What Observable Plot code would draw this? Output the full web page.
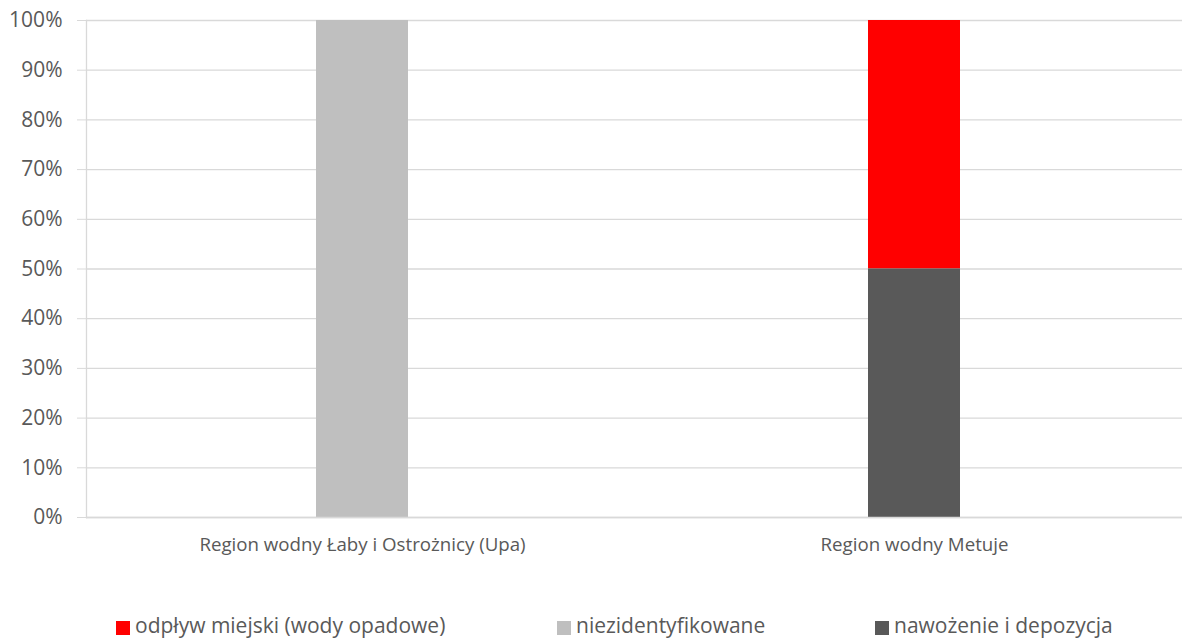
<!DOCTYPE html>
<html>
<head>
<meta charset="utf-8">
<script src="https://cdn.jsdelivr.net/npm/d3@7"></script>
<script src="https://cdn.jsdelivr.net/npm/@observablehq/plot@0.6"></script>
<style>
  html, body { margin: 0; padding: 0; background: white; overflow: hidden; }
  #wrap { position: relative; width: 1182px; height: 640px; }
  #legend { position: absolute; left: 0; top: 570px; width: 1182px; height: 70px; font-family: "Open Sans", sans-serif; color: #595959; }
  .sw { position: absolute; top: 51px; width: 14px; height: 14px; }
  .lt { position: absolute; top: 45px; font-size: 21px; line-height: 20px; white-space: nowrap; }
</style>
</head>
<body>
<div id="wrap"><div id="chart"></div><div id="legend"></div></div>
<script>
const regions = ["Region wodny Łaby i Ostrożnicy (Upa)", "Region wodny Metuje"];
const sources = ["odpływ miejski (wody opadowe)", "niezidentyfikowane", "nawożenie i depozycja"];
const colors = ["#FF0000", "#BFBFBF", "#595959"];
const odplyw = [0, 0.5];
const niezidentyfikowane = [1, 0];
const nawozenie = [0, 0.5];
const yTicks = [0, 0.1, 0.2, 0.3, 0.4, 0.5, 0.6, 0.7, 0.8, 0.9, 1];
const legendLeft = [116, 557, 875];

const series = [odplyw, niezidentyfikowane, nawozenie];
const data = [];
regions.forEach((r, i) => {
  sources.forEach((s, j) => data.push({region: r, source: s, value: series[j][i]}));
});

const chart = Plot.plot({
  width: 1182,
  height: 570,
  marginLeft: 86,
  marginRight: -8,
  marginTop: 20,
  marginBottom: 53,
  style: {fontFamily: "Open Sans", color: "#595959", background: "white", overflow: "visible"},
  x: {domain: regions, padding: 0, label: null},
  y: {domain: [0, 1], label: null},
  color: {domain: sources, range: colors},
  marks: [
    Plot.gridY(yTicks, {stroke: "#D9D9D9", strokeOpacity: 1, strokeWidth: 1.3}),
    Plot.axisY(yTicks, {tickFormat: d3.format(".0%"), tickSize: 9, tickPadding: 15, stroke: "#D9D9D9", strokeOpacity: 1, fill: "#595959", fontSize: 21, label: null}),
    Plot.frame({anchor: "left", stroke: "#D9D9D9", strokeWidth: 1.3}),
    Plot.barY(data, {x: "region", y: "value", fill: "source", order: [sources[2], sources[1], sources[0]], insetLeft: 230, insetRight: 230}),
    Plot.ruleY([0], {stroke: "#D9D9D9", strokeWidth: 1.3}),
    Plot.axisX({tickSize: 0, tickPadding: 20.5, fill: "#595959", fontSize: 18.7, label: null})
  ]
});
document.getElementById("chart").appendChild(chart);

const legend = document.getElementById("legend");
sources.forEach((s, i) => {
  const sw = document.createElement("div");
  sw.className = "sw";
  sw.style.left = legendLeft[i] + "px";
  sw.style.background = colors[i];
  legend.appendChild(sw);
  const t = document.createElement("div");
  t.className = "lt";
  t.style.left = (legendLeft[i] + 19) + "px";
  t.textContent = s;
  legend.appendChild(t);
});
</script>
</body>
</html>
